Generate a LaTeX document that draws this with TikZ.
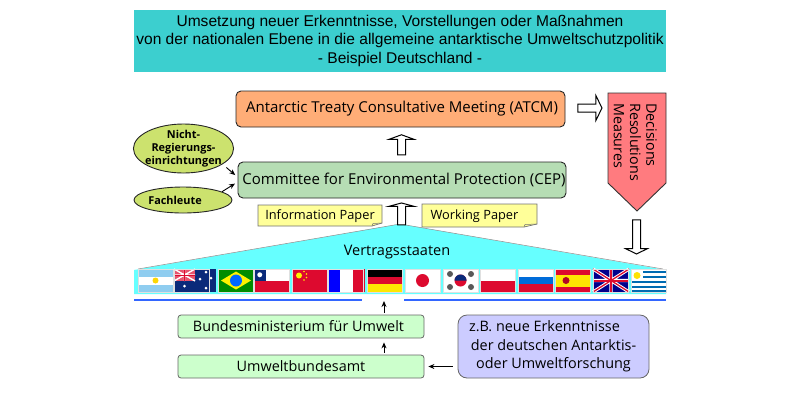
\documentclass[tikz,border=0pt]{standalone}
\usepackage{fontspec}
\setmainfont{Open Sans}
\newfontfamily\headfont{Liberation Sans}
\usetikzlibrary{arrows.meta, shapes.geometric, shapes.arrows, positioning, calc}

\definecolor{headteal}{HTML}{3CCFCF}
\definecolor{atcmorange}{HTML}{FFAD77}
\definecolor{cepgreen}{HTML}{B6DDB4}
\definecolor{leafgreen}{HTML}{CCE26E}
\definecolor{noteyellow}{HTML}{FFFF99}
\definecolor{statecyan}{HTML}{66FFFF}
\definecolor{linkblue}{HTML}{3366FF}
\definecolor{palegreen}{HTML}{CCFFCC}
\definecolor{paleblue}{HTML}{CCCCFF}
\definecolor{signalred}{HTML}{FF7B7F}
\definecolor{flagred}{HTML}{DD0A2F}
\definecolor{flagblue}{HTML}{0A2A7A}
\definecolor{skyblue}{HTML}{8FCDF0}

\tikzset{
  bodybox/.style={draw=black!85, line width=0.9pt, rounded corners=5pt, inner sep=0pt, font=\fontsize{15}{18}\selectfont},
  lowbox/.style={draw=black!60, line width=0.8pt, fill=palegreen, rounded corners=3pt, inner sep=0pt, minimum width=246pt, minimum height=23pt, font=\fontsize{14.4}{16}\selectfont},
  leaf/.style={ellipse, draw=black!85, line width=0.9pt, fill=leafgreen, inner sep=-3pt, align=center, font=\bfseries\fontsize{10.9}{13}\selectfont},
  hollowarrow/.style={single arrow, draw=black, line width=1pt, fill=white, inner xsep=0pt, inner ysep=3.5pt},
  paperlabel/.style={font=\fontsize{12.8}{15}\selectfont, inner sep=0pt},
  papersheet/.style={fill=noteyellow, draw=black!55, line width=0.7pt},
  thinarrow/.style={-{Stealth[length=6pt,width=5pt]}, line width=0.9pt, black},
  flagedge/.style={draw=black!12, line width=0.4pt}
}

% one flag is 35 wide and 23 high, drawn from its upper left corner
\newcommand{\flagat}[2]{\begin{scope}[shift={(#1,269)}]#2\draw[flagedge] (0,0) rectangle (35,23);\end{scope}}

\begin{document}
\begin{tikzpicture}[x=1pt, y=-1pt]
  \useasboundingbox (0,0) rectangle (800,400);

  % title
  \node[fill=headteal, minimum width=532pt, minimum height=62pt, inner sep=0pt, align=center, font=\headfont\fontsize{15.55}{19.4}\selectfont] (title) at (400,41)
    {\raisebox{-1pt}{Umsetzung neuer Erkenntnisse, Vorstellungen oder Maßnahmen}\\
     von der nationalen Ebene in die allgemeine antarktische Umweltschutzpolitik\\
     - Beispiel Deutschland -};

  % meetings
  \node[bodybox, fill=atcmorange, minimum width=329pt, minimum height=36pt] (atcm) at (400.5,109) {\hspace*{3pt}Antarctic Treaty Consultative Meeting (ATCM)};
  \node[bodybox, fill=cepgreen, minimum width=328pt, minimum height=36pt] (cep) at (402,180) {\hspace*{4pt}Committee for Environmental Protection (CEP)};

  % outside advice
  \node[leaf, minimum width=99pt, minimum height=49pt] (ngo) at (183.5,148.5) {Nicht-\\Regierungs-\\einrichtungen};
  \node[leaf, minimum width=98pt, minimum height=26pt] (experts) at (183,200) {Fachleute\hspace*{16pt}};
  \draw[thinarrow, shorten <=5pt, shorten >=3pt] (ngo.-22) -- (cep.west |- 0,177);
  \draw[thinarrow, shorten >=3pt] (experts.12) -- (cep.west |- 0,182);

  % states
  \fill[statecyan] (134,270) -- (400,224) -- (666,270) -- (666,294) -- (134,294) -- cycle;
  \draw[black!45, line width=0.5pt] (138,269) -- (400,224) -- (663,269);
  \node[font=\fontsize{14.5}{16}\selectfont, inner sep=0pt] (states) at (397,252) {Vertragsstaaten};

  % papers
  \draw[papersheet] (258,205) -- (382,205) -- (382,223) -- (372,226) -- (258,226) -- cycle;
  \draw[papersheet] (422,204) -- (537,204) -- (537,224) -- (524,227) -- (422,227) -- cycle;
  \draw[black!55, line width=0.5pt] (372,226) -- (373,223.5) -- (382,223);
  \draw[black!55, line width=0.5pt] (524,227) -- (525,224.5) -- (537,224);
  \node[paperlabel] (info) at (320,216) {Information Paper};
  \node[paperlabel] (work) at (474.5,216) {Working Paper};

  % block arrows
  \node[hollowarrow, rotate=90, minimum height=20pt, single arrow head extend=8.5pt, single arrow tip angle=140] (up1) at (401.5,145.5) {};
  \node[hollowarrow, rotate=90, minimum height=22pt, single arrow head extend=8.5pt, single arrow tip angle=150] (up2) at (401.5,214.5) {};
  \node[hollowarrow, minimum height=24pt, single arrow head extend=8.5pt, single arrow tip angle=128] (right1) at (589,108) {};
  \node[hollowarrow, rotate=-90, minimum height=34pt, single arrow head extend=7pt, single arrow tip angle=128] (down1) at (636.5,236) {};

  % results
  \draw[fill=signalred, draw=black!80, line width=0.9pt] (608,93) -- (666,93) -- (666,183) -- (637,211) -- (608,183) -- cycle;
  \node[rotate=-90, anchor=north west, align=left, inner sep=0pt, font=\fontsize{14.3}{16.2}\selectfont] (results) at (657,103) {Decisions\\Resolutions\\Measures};

  % flags
  \flagat{138}{\fill[skyblue] (0,0) rectangle (35,23); \fill[white] (0,7.5) rectangle (35,15.5); \fill[yellow!75!orange] (17.5,11.5) circle (3);}
  \flagat{174}{\fill[flagblue] (0,0) rectangle (42,23); \fill[flagred!70!white] (0,0) rectangle (21,12); \draw[white, line width=1.4pt] (0,0) -- (21,12) (21,0) -- (0,12) (10.5,0) -- (10.5,12) (0,6) -- (21,6); \draw[flagred, line width=0.7pt] (10.5,0) -- (10.5,12) (0,6) -- (21,6); \foreach \sx/\sy in {10.5/17, 32/3, 26/10, 37/9, 32/19} {\fill[white] (\sx,\sy) circle (1.5);}}
  \flagat{218}{\fill[green!55!black] (0,0) rectangle (36,23); \fill[yellow] (18,2.5) -- (33,11.5) -- (18,20.5) -- (3,11.5) -- cycle; \fill[blue!60!cyan] (18,11.5) circle (6);}
  \flagat{254}{\fill[white] (0,0) rectangle (35,11.5); \fill[flagred] (0,11.5) rectangle (35,23); \fill[flagblue] (0,0) rectangle (11.5,11.5); \fill[white] (5.75,5.75) circle (2.5);}
  \flagat{292}{\fill[flagred] (0,0) rectangle (35,23); \fill[yellow] (7,6.5) circle (3); \foreach \sx/\sy in {12/2.5, 14.5/5, 14.5/8.5, 12/11} {\fill[yellow] (\sx,\sy) circle (0.9);}}
  \flagat{328}{\fill[blue] (0,0) rectangle (12,23); \fill[white] (12,0) rectangle (25,23); \fill[flagred] (25,0) rectangle (37,23);}
  \flagat{367}{\fill[black] (0,0) rectangle (35,7.7); \fill[flagred] (0,7.7) rectangle (35,15.3); \fill[yellow!90!orange] (0,15.3) rectangle (35,23);}
  \flagat{405}{\fill[white] (0,0) rectangle (35,23); \fill[flagred] (17.5,11.5) circle (6.5);}
  \flagat{443}{\fill[white] (0,0) rectangle (35,23); \fill[flagred] (17.5,11.5) circle (6); \fill[flagblue] (11.5,11.5) arc[start angle=180, end angle=360, radius=6] -- cycle; \foreach \sx/\sy in {7/5, 28/5, 7/18, 28/18} {\fill[black!65] (\sx,\sy) circle (3);}}
  \flagat{480}{\fill[white] (0,0) rectangle (35,11.5); \fill[flagred] (0,11.5) rectangle (35,23);}
  \flagat{518}{\fill[white] (0,0) rectangle (35,7.7); \fill[blue!50!cyan!85!black] (0,7.7) rectangle (35,15.3); \fill[flagred] (0,15.3) rectangle (35,23);}
  \flagat{555}{\fill[flagred] (0,0) rectangle (36,23); \fill[yellow!90!orange] (0,5.5) rectangle (36,17.5); \fill[flagred!80!black] (11,11.5) circle (3.5);}
  \flagat{593}{\fill[blue!55!black] (0,0) rectangle (36,23); \draw[white, line width=3.2pt] (0,0) -- (36,23) (36,0) -- (0,23) (18,0) -- (18,23) (0,11.5) -- (36,11.5); \draw[flagred, line width=1.3pt] (0,0) -- (36,23) (36,0) -- (0,23); \draw[flagred, line width=2pt] (18,0) -- (18,23) (0,11.5) -- (36,11.5);}
  \flagat{631}{\fill[white] (0,0) rectangle (35,23); \foreach \sy in {2.5, 7.5, 12.5, 17.5, 22} {\fill[blue!40!cyan!70!black] (12,\sy-1) rectangle (35,\sy+1);} \foreach \sy in {12.5, 17.5, 22} {\fill[blue!40!cyan!70!black] (0,\sy-1) rectangle (35,\sy+1);} \fill[yellow!85!orange] (6,6.5) circle (3.5);}

  % rule under the flags
  \coordinate (gapleft) at (362,300);
  \coordinate (gapright) at (404,300);
  \coordinate (gapmid) at (384,301);
  \draw[linkblue, line width=2pt] (134,300) -- (gapleft);
  \draw[linkblue, line width=2pt] (gapright) -- (666,300);

  % national level
  \node[lowbox] (bmu) at (301,326.5) {Bundesministerium für Umwelt\hspace*{5pt}};
  \node[lowbox] (uba) at (301,366.5) {Umweltbundesamt};
  \node[draw=black!60, line width=0.8pt, fill=paleblue, rounded corners=9pt, minimum width=191pt, minimum height=63pt, inner sep=0pt, align=center, font=\fontsize{14.4}{18.6}\selectfont] (science) at (553.5,346.5)
    {z.B. neue Erkenntnisse\hspace*{18pt}\\der deutschen Antarktis-\hspace*{10pt}\\oder Umweltforschung};
  \draw[thinarrow] ([xshift=83pt,yshift=2pt]bmu.north) -- (gapmid);
  \draw[thinarrow] ([xshift=83pt,yshift=2pt]uba.north) -- ([xshift=83pt,yshift=-4pt]bmu.south);
  \draw[thinarrow] ([xshift=-5pt]science.west |- uba.east) -- ([xshift=4pt]uba.east);
\end{tikzpicture}
\end{document}
